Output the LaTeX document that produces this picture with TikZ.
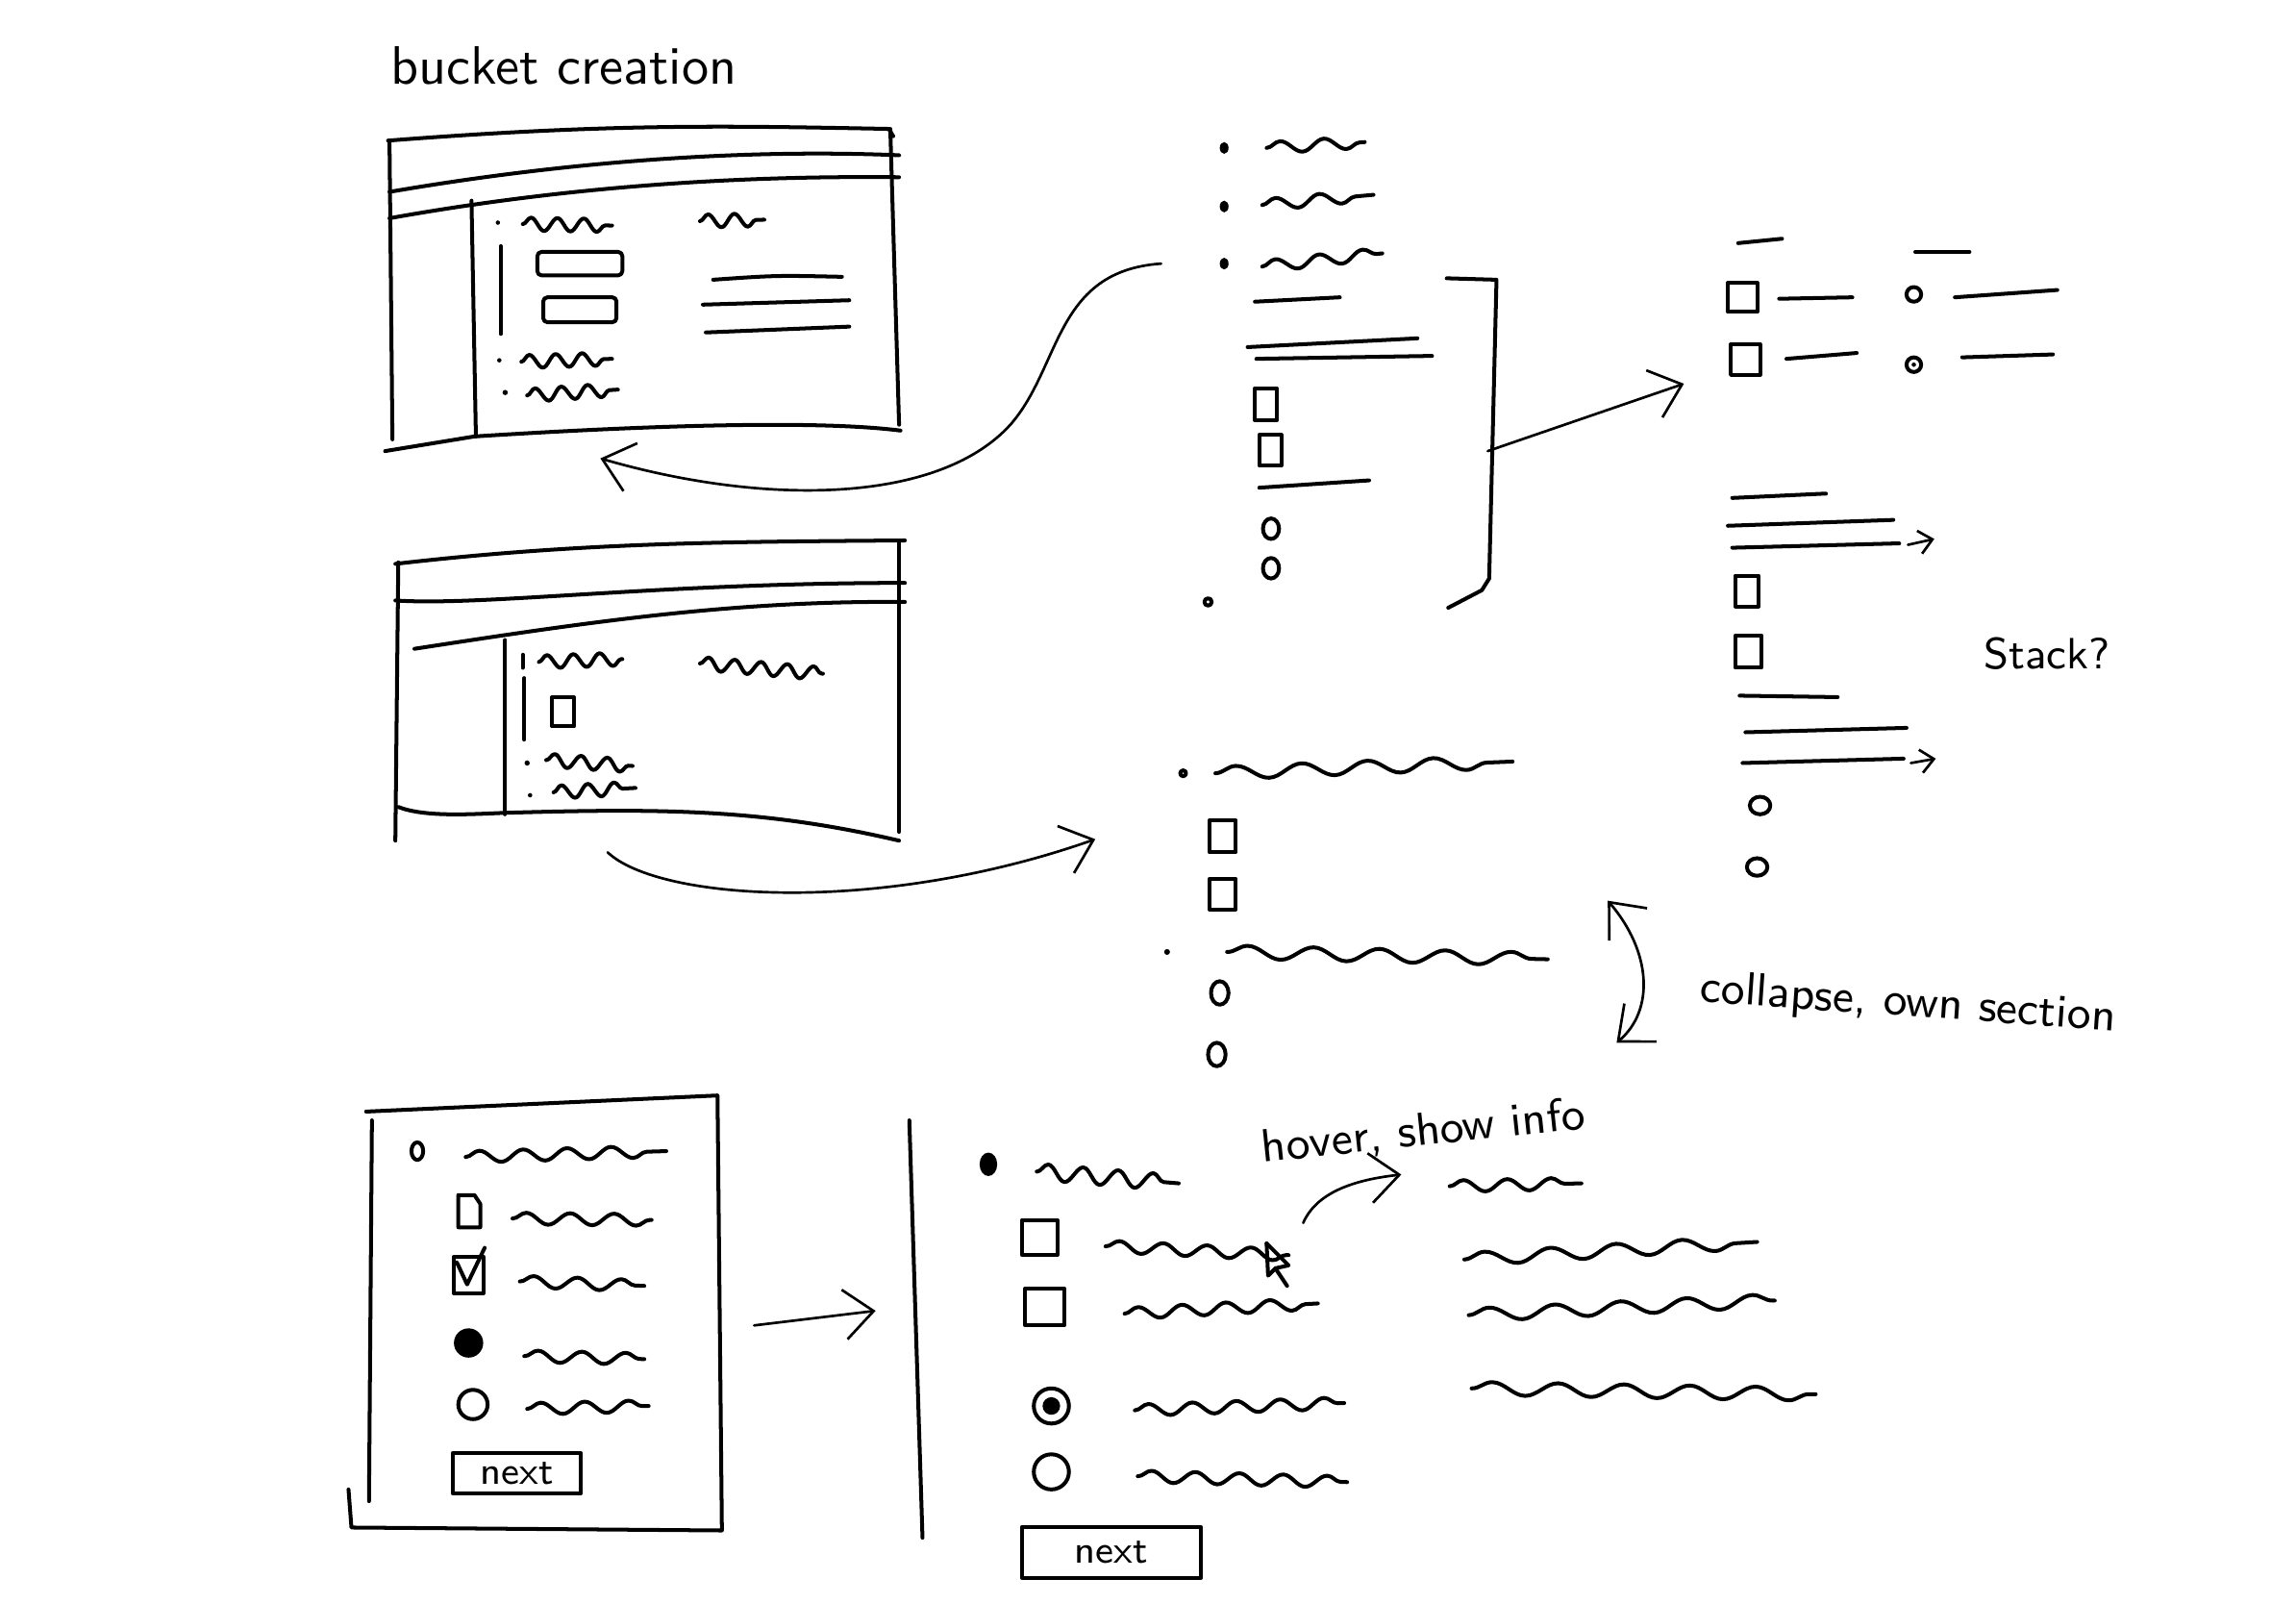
\documentclass[tikz,border=0pt]{standalone}
\usetikzlibrary{arrows.meta,decorations.pathmorphing,positioning}

\begin{document}
\begin{tikzpicture}[
  x=0.1mm, y=-0.1mm,
  pen/.style={line width=0.75pt, line cap=round, line join=round},
  thin/.style={line width=0.5pt, line cap=round, line join=round},
  squig/.style={pen, decorate, decoration={snake, amplitude=0.4mm, segment length=3mm}},
  zig/.style={pen, decorate, decoration={snake, amplitude=0.45mm, segment length=1.8mm}},
  wave/.style={pen, decorate, decoration={snake, amplitude=0.45mm, segment length=4.5mm}},
  arr/.style={thin, -{Straight Barb[length=2mm,width=3.4mm]}},
  tinyarr/.style={thin, -{Straight Barb[length=0.9mm,width=1.6mm]}},
  note/.style={font=\sffamily\fontsize{9}{10}\selectfont, inner sep=0pt},
  btn/.style={pen, draw, font=\sffamily\fontsize{7.5}{8}\selectfont, inner sep=0pt}
]
\fill[white] (0,0) rectangle (1568,1095);

% title
\node[note, font=\sffamily\fontsize{10.5}{12}\selectfont] (title) at (385,45) {bucket creation};

% --- window 1
\draw[pen] (265,96) .. controls (420,84) and (500,86) .. (607,88) -- (610,93);
\draw[pen] (266,131) .. controls (400,108) and (520,102) .. (614,106);
\draw[pen] (266,149) .. controls (400,125) and (520,120) .. (614,121);
\draw[pen] (266,96) -- (268,300);
\draw[pen] (608,88) -- (614,290);
\draw[pen] (263,308) -- (324,298) .. controls (450,290) and (560,287) .. (615,294);
\draw[pen] (322,137) -- (325,298);
\fill (340,152) circle (1.5);
\draw[zig] (357,153) -- (418,154);
\draw[zig] (478,151) -- (522,150);
\draw[pen] (342,168) -- (342,228);
\draw[pen, rounded corners=0.8pt] (367,172) rectangle (425,188);
\draw[pen, rounded corners=0.8pt] (371,203) rectangle (421,220);
\draw[pen] (487,191) .. controls (530,188) .. (575,189);
\draw[pen] (480,208) -- (580,205);
\draw[pen] (482,227) -- (580,223);
\fill (341,246) circle (1.5);
\draw[zig] (356,247) -- (418,245);
\fill (345,268) circle (1.8);
\draw[zig] (360,270) -- (422,266);

% --- window 2
\draw[pen] (270,385) .. controls (400,370) and (500,370) .. (618,369);
\draw[pen] (270,410) .. controls (330,414) and (450,398) .. (618,398);
\draw[pen] (283,443) .. controls (400,425) and (500,410) .. (618,411);
\draw[pen] (272,384) -- (270,574);
\draw[pen] (614,370) -- (614,568);
\draw[pen] (272,551) .. controls (290,558) and (320,556) .. (345,555)
  .. controls (450,552) and (520,552) .. (614,574);
\draw[pen] (345,437) -- (345,556);
\draw[pen] (357,447) -- (357,456);
\draw[zig] (368,452) -- (425,450);
\draw[zig] (478,453) -- (562,460);
\draw[pen] (358,463) -- (358,505);
\draw[pen] (377,476) rectangle (392,496);
\fill (360,521) circle (1.8);
\draw[zig] (373,519) -- (432,523);
\fill (362,543) circle (1.5);
\draw[zig] (378,541) -- (434,538);

% --- top list
\foreach \y in {101,141,180} \fill (836,\y) ellipse [x radius=3, y radius=4];
\draw[squig] (865,101) -- (932,97);
\draw[squig] (862,140) -- (938,133);
\draw[squig] (862,182) -- (944,173);
\draw[pen] (857,206) -- (915,203);
\draw[pen] (852,237) -- (968,231);
\draw[pen] (858,245) -- (978,243);
\draw[pen] (857,265) rectangle (872,287);
\draw[pen] (860,297) rectangle (875,318);
\draw[pen] (860,333) -- (935,328);
\draw[pen] (868,361) ellipse [x radius=5.5, y radius=7];
\draw[pen] (868,388) ellipse [x radius=5.5, y radius=7];
\draw[pen] (825,411) circle (2.5);
\draw[pen] (988,190) -- (1022,191) -- (1017,395) -- (1012,403) -- (989,415);

% --- options grid
\draw[pen] (1187,166) -- (1217,163);
\draw[pen] (1308,172) -- (1345,172);
\draw[pen] (1180,193) rectangle (1200,213);
\draw[pen] (1182,235) rectangle (1202,256);
\draw[pen] (1215,204) -- (1265,203);
\draw[pen] (1220,245) -- (1268,241);
\draw[pen] (1307,201) circle (5);
\draw[pen] (1307,249) circle (5);
\fill (1307,249) circle (1.5);
\draw[pen] (1335,203) -- (1405,198);
\draw[pen] (1340,244) -- (1402,242);

% --- stack list
\draw[pen] (1183,340) -- (1247,337);
\draw[pen] (1180,359) -- (1293,355);
\draw[pen] (1183,374) -- (1297,371);
\draw[tinyarr] (1303,372) -- (1321,368);
\draw[pen] (1185,393) rectangle (1201,414);
\draw[pen] (1185,434) rectangle (1203,456);
\draw[pen] (1188,475) -- (1255,476);
\draw[pen] (1192,500) -- (1302,497);
\draw[pen] (1190,521) -- (1300,518);
\draw[tinyarr] (1305,521) -- (1322,518);
\draw[pen] (1202,550) ellipse [x radius=7, y radius=6];
\draw[pen] (1200,592) ellipse [x radius=7, y radius=6];
\node[note, font=\sffamily\fontsize{8.5}{10}\selectfont] (stack) at (1398,446) {Stack?};

% --- middle list
\draw[pen] (808,528) circle (2);
\draw[wave] (830,528) -- (1033,520);
\draw[pen] (826,560) rectangle (844,582);
\draw[pen] (826,600) rectangle (844,621);
\fill (797,650) circle (2);
\draw[wave] (838,650) -- (1057,655);
\draw[pen] (833,678) ellipse [x radius=6, y radius=8];
\draw[pen] (831,720) ellipse [x radius=6, y radius=8];
\node[note, rotate=-4] (collapse) at (1303,686) {collapse, own section};

% --- form box
\draw[pen] (250,759) -- (490,748) -- (493,1045) -- (240,1043) -- (238,1017);
\draw[pen] (254,765) -- (252,1025);
\draw[pen] (285,786) ellipse [x radius=4, y radius=6];
\draw[squig] (318,790) -- (455,786);
\draw[pen] (313,838) -- (313,816) -- (324,816) -- (328,822) -- (328,838) -- cycle;
\draw[squig] (350,832) -- (445,833);
\draw[pen] (310,858) rectangle (330,883);
\draw[pen] (312,862) -- (319,877) -- (331,852);
\draw[squig] (355,875) -- (440,878);
\fill (320,917) circle (10);
\draw[squig] (358,926) -- (440,928);
\draw[pen] (323,959) circle (10);
\draw[squig] (360,962) -- (443,960);
\node[btn, minimum width=8.7mm, minimum height=2.8mm] (nextA) at (353,1006) {next};

% --- wizard step
\draw[pen] (621,765) -- (630,1050);
\fill (675,795) ellipse [x radius=6, y radius=8];
\draw[pen, decorate, decoration={snake, amplitude=0.55mm, segment length=2.4mm}] (708,800) -- (805,808);
\draw[pen] (698,833) rectangle (722,857);
\draw[squig] (755,851) -- (880,857);
\draw[pen] (865,849) -- (866,871) -- (871,866) -- (879,878);
\draw[pen] (865,849) -- (880,864) -- (871,866);
\draw[pen] (700,880) rectangle (727,905);
\draw[squig] (768,897) -- (900,890);
\draw[pen] (718,960) circle (12);
\fill (718,960) circle (6);
\draw[squig] (775,963) -- (918,958);
\draw[pen] (718,1005) circle (12);
\draw[squig] (777,1008) -- (920,1012);
\node[btn, minimum width=12.2mm, minimum height=3.5mm] (nextB) at (759,1060) {next};
\node[note, rotate=6] (hover) at (972,773) {hover, show info};
\draw[squig] (990,810) -- (1080,808);
\draw[wave] (1000,860) -- (1200,848);
\draw[wave] (1003,898) -- (1212,888);
\draw[wave] (1005,948) -- (1240,952);

% --- connectors
\coordinate (topS) at (793,180);
\coordinate (winE) at (410,313);
\coordinate (winS) at (415,582);
\coordinate (midE) at (748,573);
\coordinate (brkS) at (1016,308);
\coordinate (optE) at (1150,262);
\coordinate (colT) at (1098,615);
\coordinate (colB) at (1104,712);
\coordinate (formS) at (515,905);
\coordinate (stepE) at (598,895);
\coordinate (curS) at (890,835);
\coordinate (infoE) at (957,802);

\draw[arr] (topS) .. controls (720,185) and (725,250) .. (690,290)
  .. controls (640,345) and (520,345) .. (winE);
\draw[arr] (winS) .. controls (450,615) and (600,625) .. (midE);
\draw[arr] (brkS) -- (optE);
\draw[thin, {Straight Barb[length=2mm,width=3.4mm]}-{Straight Barb[length=2mm,width=3.4mm]}]
  (colT) .. controls (1128,650) and (1130,690) .. (colB);
\draw[arr] (formS) -- (stepE);
\draw[arr] (curS) .. controls (900,812) and (930,805) .. (infoE);
\end{tikzpicture}
\end{document}
